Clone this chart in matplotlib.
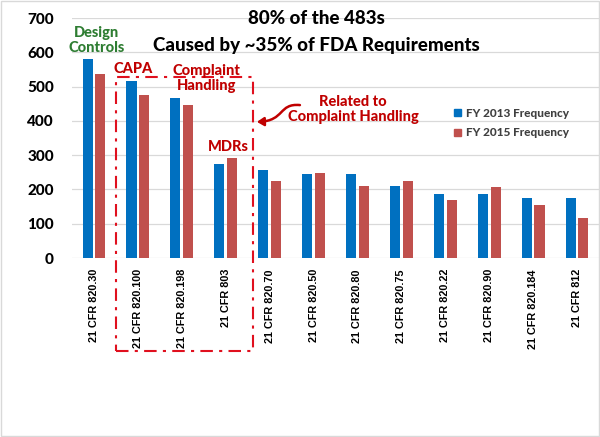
import matplotlib
matplotlib.use("Agg")
import matplotlib.pyplot as plt
import numpy as np
from matplotlib.patches import Rectangle, Patch, FancyArrowPatch
from matplotlib.path import Path

categories = ["21 CFR 820.30", "21 CFR 820.100", "21 CFR 820.198", "21 CFR 803",
              "21 CFR 820.70", "21 CFR 820.50", "21 CFR 820.80", "21 CFR 820.75",
              "21 CFR 820.22", "21 CFR 820.90", "21 CFR 820.184", "21 CFR 812"]
fy2013 = [580, 516, 467, 273, 257, 244, 244, 209, 187, 187, 176, 176]
fy2015 = [536, 475, 446, 292, 226, 247, 209, 224, 169, 207, 155, 116]
series_names = ["FY 2013 Frequency", "FY 2015 Frequency"]
yticks = [0, 100, 200, 300, 400, 500, 600, 700]

BLUE = "#0070C0"
RED = "#C0504D"
DARKRED = "#C00000"
GREEN = "#2E7D32"
FONT = "Lato"
HEAVY = 900

fig = plt.figure(figsize=(6, 4.37), dpi=100)
W, H = 600, 437
ax = fig.add_axes([72 / W, 1 - 258 / H, (599 - 72) / W, (258 - 18) / H])

x = np.arange(len(categories))
bw = 0.23
ax.bar(x - 0.145, fy2013, width=bw, color=BLUE, zorder=3)
ax.bar(x + 0.145, fy2015, width=bw, color=RED, zorder=3)

ax.set_xlim(-0.5, len(categories) - 0.5)
ax.set_ylim(0, 700)
ax.set_yticks(yticks)
ax.set_yticklabels([str(v) for v in yticks], fontfamily=FONT, fontweight=HEAVY, fontsize=11)
ax.set_xticks(x)
ax.set_xticklabels(categories, rotation=90, fontfamily="Liberation Sans",
                   fontweight="bold", fontsize=7.8, va="top")
ax.tick_params(axis="both", length=0)
ax.tick_params(axis="y", pad=13)
ax.tick_params(axis="x", pad=8)
ax.yaxis.grid(True, color="#D9D9D9", linewidth=0.9, zorder=0)
for s in ax.spines.values():
    s.set_visible(False)

# Title
fig.text(316 / W, 1 - 18 / H, "80% of the 483s", ha="center", va="center",
         fontfamily=FONT, fontweight=HEAVY, fontsize=13.5)
fig.text(316 / W, 1 - 45 / H, "Caused by ~35% of FDA Requirements", ha="center", va="center",
         fontfamily=FONT, fontweight=HEAVY, fontsize=13.5)

# Annotations
kw = dict(ha="center", va="center", fontfamily=FONT, fontweight=HEAVY, fontsize=10.5,
          linespacing=1.1, zorder=5)
ax.text(0.05, 634, "Design\nControls", color=GREEN, **kw)
ax.text(0.89, 551, "CAPA", color=DARKRED, **kw)
ax.text(2.57, 523, "Complaint\nHandling", color=DARKRED, **kw)
ax.text(3.05, 324, "MDRs", color=DARKRED, **kw)
ax.text(5.9, 433, "Related to\nComplaint Handling", color=DARKRED, **kw)

verts = [(4.69, 446), (4.2, 452), (4.35, 400), (3.71, 397)]
codes = [Path.MOVETO, Path.CURVE4, Path.CURVE4, Path.CURVE4]
arrow = FancyArrowPatch(path=Path(verts, codes),
                        arrowstyle="-|>,head_length=4,head_width=2.5", color=DARKRED,
                        linewidth=1.8, zorder=5)
ax.add_patch(arrow)

rect = Rectangle((0.5, -271), 3.62 - 0.5, 528 + 271, fill=False, edgecolor="#E0101E",
                 linestyle=(0, (6, 3, 1.5, 3)), linewidth=1.5, clip_on=False, zorder=4)
ax.add_patch(rect)

# Legend
handles = [Patch(color=BLUE), Patch(color=RED)]
leg = ax.legend(handles, series_names, loc="center left",
                bbox_to_anchor=(454 / W, 1 - 123 / H), bbox_transform=fig.transFigure,
                frameon=False, borderpad=0, borderaxespad=0, handlelength=0.6,
                handleheight=0.6, handletextpad=0.4, labelspacing=0.75,
                prop=dict(family=FONT, weight=HEAVY, size=8.5))
for t in leg.get_texts():
    t.set_color("#404040")

# Figure border
fig.patches.append(Rectangle((0.002, 0.002), 0.996, 0.996, transform=fig.transFigure,
                             fill=False, edgecolor="#D9D9D9", linewidth=1))

fig.savefig("out.png", dpi=100)
